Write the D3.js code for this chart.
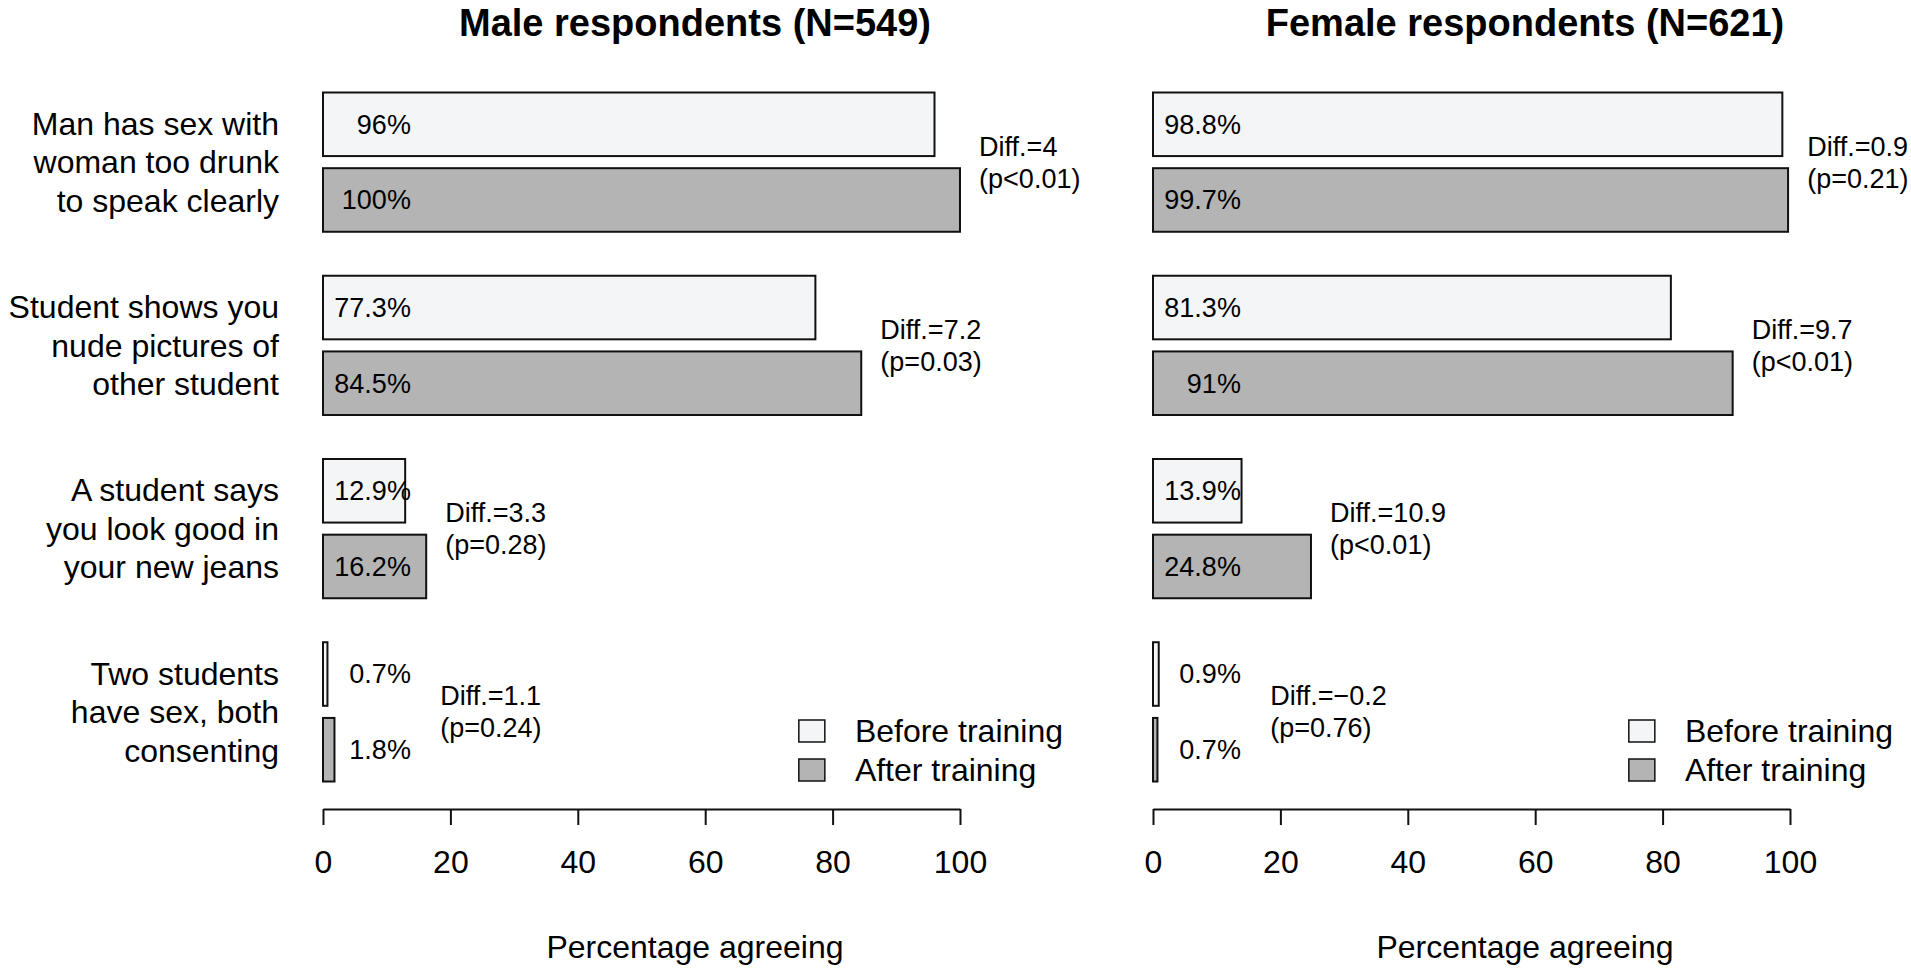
<!DOCTYPE html>
<html>
<head>
<meta charset="utf-8">
<script src="https://cdn.jsdelivr.net/npm/d3@7"></script>
<style>
  body { margin: 0; background: #fff; }
  text { font-family: "Liberation Sans", Arial, sans-serif; fill: #000; }
</style>
</head>
<body>
<script>
const categories = [
  ['Man has sex with', 'woman too drunk', 'to speak clearly'],
  ['Student shows you', 'nude pictures of', 'other student'],
  ['A student says', 'you look good in', 'your new jeans'],
  ['Two students', 'have sex, both', 'consenting'],
];
const groups = ['Before training', 'After training'];

const maleBefore = [96, 77.3, 12.9, 0.7];
const maleAfter  = [100, 84.5, 16.2, 1.8];
const maleDiff   = ['4', '7.2', '3.3', '1.1'];
const maleP      = ['p<0.01', 'p=0.03', 'p=0.28', 'p=0.24'];

const femaleBefore = [98.8, 81.3, 13.9, 0.9];
const femaleAfter  = [99.7, 91, 24.8, 0.7];
const femaleDiff   = ['0.9', '9.7', '10.9', '\u22120.2'];
const femaleP      = ['p=0.21', 'p<0.01', 'p<0.01', 'p=0.76'];

const ticks = [0, 20, 40, 60, 80, 100];

const panels = [
  { title: 'Male respondents (N=549)', before: maleBefore, after: maleAfter, diff: maleDiff, p: maleP, left: 323, labels: true },
  { title: 'Female respondents (N=621)', before: femaleBefore, after: femaleAfter, diff: femaleDiff, p: femaleP, left: 1153, labels: false },
];

const width = 1911, height = 972;
const xMax = 116.8;          // plot region extends past 100 for the notes
const panelW = 744;
const axisY = 809;
const fills = { 'Before training': '#f4f5f7', 'After training': '#b3b4b3' };

const svg = d3.select('body').append('svg')
    .attr('width', width)
    .attr('height', height);

const y = d3.scaleBand()
    .domain(d3.range(categories.length))
    .range([92.5, 781.5])
    .paddingInner(0.24);

const yIn = d3.scaleBand()
    .domain(groups)
    .range([0, y.bandwidth()])
    .paddingInner(0.16);

panels.forEach(p => {
  const g = svg.append('g').attr('transform', 'translate(' + p.left + ',0)');
  const x = d3.scaleLinear().domain([0, xMax]).range([0, panelW]);

  g.append('text')
      .attr('x', x(xMax / 2))
      .attr('y', 36)
      .attr('text-anchor', 'middle')
      .style('font-size', '38px')
      .style('font-weight', 'bold')
      .text(p.title);

  categories.forEach((cat, i) => {
    const vals = [p.before[i], p.after[i]];
    const cg = g.append('g').attr('transform', 'translate(0,' + y(i) + ')');

    cg.selectAll('rect')
        .data(groups)
        .enter().append('rect')
        .attr('x', x(0))
        .attr('y', d => yIn(d))
        .attr('width', (d, k) => x(vals[k]) - x(0))
        .attr('height', yIn.bandwidth())
        .style('fill', d => fills[d])
        .style('stroke', '#111')
        .style('stroke-width', 2);

    cg.selectAll('.val')
        .data(groups)
        .enter().append('text')
        .attr('class', 'val')
        .attr('x', x(13.8))
        .attr('y', d => yIn(d) + yIn.bandwidth() / 2)
        .attr('dy', '0.35em')
        .attr('text-anchor', 'end')
        .style('font-size', '27px')
        .text((d, k) => vals[k] + '%');

    const mid = y.bandwidth() / 2;
    const nx = x(Math.max(p.after[i], 15.4) + 3);
    cg.append('text')
        .attr('x', nx).attr('y', mid - 16).attr('dy', '0.35em')
        .style('font-size', '27px')
        .text('Diff.=' + p.diff[i]);
    cg.append('text')
        .attr('x', nx).attr('y', mid + 16).attr('dy', '0.35em')
        .style('font-size', '27px')
        .text('(' + p.p[i] + ')');

    if (p.labels) {
      const t = cg.append('text')
          .attr('text-anchor', 'end')
          .style('font-size', '32px');
      cat.forEach((line, k) => {
        t.append('tspan')
            .attr('x', -44)
            .attr('y', mid + (k - 1) * 38.5)
            .attr('dy', '0.35em')
            .text(line);
      });
    }
  });

  // axis only covers 0..100
  const xa = d3.scaleLinear().domain([0, 100]).range([x(0), x(100)]);
  const ax = g.append('g')
      .attr('transform', 'translate(0,' + axisY + ')')
      .call(d3.axisBottom(xa).tickValues(ticks).tickSize(16).tickSizeOuter(0).tickPadding(25));
  ax.selectAll('path, line').style('stroke', '#111').style('stroke-width', 2);
  ax.selectAll('text')
      .style('font-size', '32px')
      .style('font-family', '"Liberation Sans", Arial, sans-serif')
      .style('fill', '#000');

  g.append('text')
      .attr('x', x(xMax / 2))
      .attr('y', 958)
      .attr('text-anchor', 'middle')
      .style('font-size', '32px')
      .text('Percentage agreeing');

  // legend, bottom right
  const lg = g.selectAll('.leg')
      .data(groups)
      .enter().append('g')
      .attr('class', 'leg')
      .attr('transform', (d, k) => 'translate(' + x(74.7) + ',' + (axisY - 78 + k * 39) + ')');
  lg.append('rect')
      .attr('x', 0).attr('y', -11)
      .attr('width', 26).attr('height', 22)
      .style('fill', d => fills[d])
      .style('stroke', '#111')
      .style('stroke-width', 1.5);
  lg.append('text')
      .attr('x', x(83.5) - x(74.7))
      .attr('dy', '0.35em')
      .style('font-size', '32px')
      .text(d => d);
});
</script>
</body>
</html>
